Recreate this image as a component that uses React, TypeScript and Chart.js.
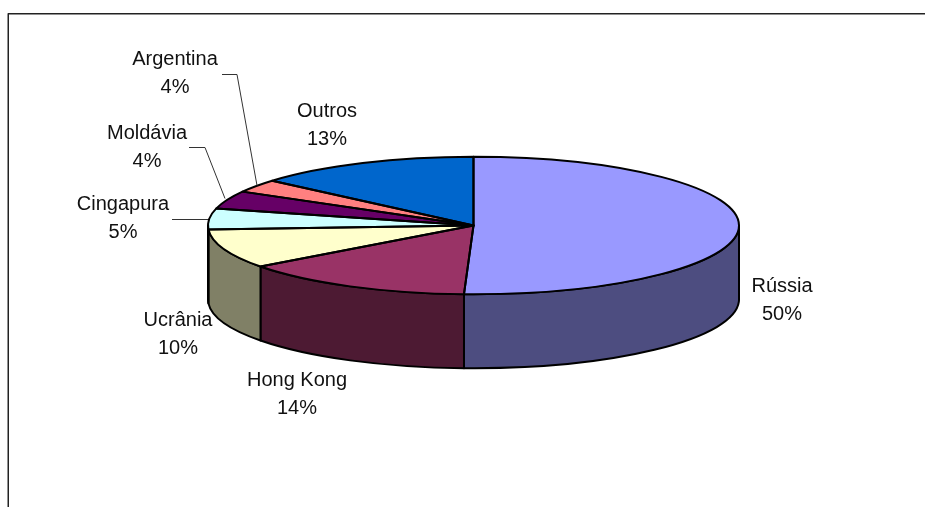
import React, { useEffect, useRef } from "react";
import { Chart, registerables } from "chart.js";

Chart.register(...registerables);

// Slice shares
const categories = ["Rússia", "Hong Kong", "Ucrânia", "Cingapura", "Moldávia", "Argentina", "Outros"];
const sliceValues = [50.57, 14.25, 9.28, 4.9, 4.2, 3.1, 13.7];
const percentLabels = ["50%", "14%", "10%", "5%", "4%", "4%", "13%"];
const topColors = ["#9999FF", "#993366", "#FFFFCC", "#CCFFFF", "#660066", "#FF8080", "#0066CC"];
const sideColors = ["#4D4D80", "#4D1A33", "#808066", "#668080", "#330033", "#804040", "#003366"];

// Label centres (name line) in page pixels
const labelX = [782, 297, 178, 123, 147, 175, 327];
const labelY = [286, 380, 320, 204, 133, 59, 111];
const LINE_GAP = 28.5;

// Leader lines for the small slices
const leaders: number[][][] = [
  [[172, 219], [208, 219]],
  [[189, 147], [205, 147], [225, 198]],
  [[222, 74], [237, 74], [257, 185]],
];

const RADIUS = 265.5;
const SQUASH = 68.75 / 265.5;
const DEPTH = 74;

const pie3d = {
  id: "pie3d",
  beforeDatasetsDraw(chart: any) {
    const { ctx } = chart;
    const arcs = chart.getDatasetMeta(0).data;
    const a = arcs[0].x;
    const cy = arcs[0].y;
    const rx = arcs[0].outerRadius;
    const ry = rx * SQUASH;
    ctx.save();
    ctx.lineWidth = 2;
    ctx.strokeStyle = "#000";
    ctx.lineJoin = "round";
    arcs.forEach((arc: any, i: number) => {
      const s = Math.max(arc.startAngle, 0);
      const e = Math.min(arc.endAngle, Math.PI);
      if (e <= s) return;
      ctx.beginPath();
      ctx.ellipse(a, cy, rx, ry, 0, s, e);
      ctx.ellipse(a, cy + DEPTH, rx, ry, 0, e, s, true);
      ctx.closePath();
      ctx.fillStyle = sideColors[i];
      ctx.fill();
      ctx.stroke();
    });
    ctx.restore();
    // squash the top face that the library draws next
    ctx.save();
    ctx.translate(0, cy);
    ctx.scale(1, SQUASH);
    ctx.translate(0, -cy);
  },
  afterDatasetsDraw(chart: any) {
    const { ctx } = chart;
    ctx.restore();
    const arcs = chart.getDatasetMeta(0).data;
    const cx = arcs[0].x;
    const cy = arcs[0].y;
    const rx = arcs[0].outerRadius;
    const ry = rx * SQUASH;
    ctx.save();
    ctx.lineWidth = 2;
    ctx.strokeStyle = "#000";
    ctx.lineJoin = "round";
    arcs.forEach((arc: any) => {
      ctx.beginPath();
      ctx.moveTo(cx, cy);
      ctx.ellipse(cx, cy, rx, ry, 0, arc.startAngle, arc.endAngle);
      ctx.closePath();
      ctx.stroke();
    });
    // chart frame: only the top and left sides are in view
    ctx.lineWidth = 1.5;
    ctx.strokeStyle = "#222";
    ctx.beginPath();
    ctx.moveTo(8.25, 507);
    ctx.lineTo(8.25, 13.75);
    ctx.lineTo(925, 13.75);
    ctx.stroke();
    // leader lines
    ctx.lineWidth = 1;
    ctx.strokeStyle = "#333";
    leaders.forEach((pts) => {
      ctx.beginPath();
      pts.forEach(([x, y], j) => (j ? ctx.lineTo(x, y + 0.5) : ctx.moveTo(x, y + 0.5)));
      ctx.stroke();
    });
    // data labels
    ctx.fillStyle = "#111";
    ctx.font = '20px "Liberation Sans", Arial, sans-serif';
    ctx.textAlign = "center";
    ctx.textBaseline = "middle";
    categories.forEach((name, i) => {
      ctx.fillText(name, labelX[i], labelY[i]);
      ctx.fillText(percentLabels[i], labelX[i], labelY[i] + LINE_GAP);
    });
    ctx.restore();
  },
};

export default function App() {
  const ref = useRef<HTMLCanvasElement>(null);
  useEffect(() => {
    const chart = new Chart(ref.current as HTMLCanvasElement, {
      type: "pie",
      data: {
        labels: categories,
        datasets: [
          {
            data: sliceValues,
            backgroundColor: topColors,
            borderWidth: 0,
            radius: RADIUS,
            clip: false,
          } as any,
        ],
      },
      options: {
        animation: false,
        responsive: false,
        layout: { padding: { left: 22, right: 0, top: 0, bottom: 56 } },
        plugins: { legend: { display: false }, tooltip: { enabled: false } },
      },
      plugins: [pie3d],
    });
    return () => chart.destroy();
  }, []);
  return (
    <canvas
      ref={ref}
      width={925}
      height={507}
      style={{ position: "absolute", left: 0, top: 0, width: 925, height: 507, background: "#fff" }}
    />
  );
}
